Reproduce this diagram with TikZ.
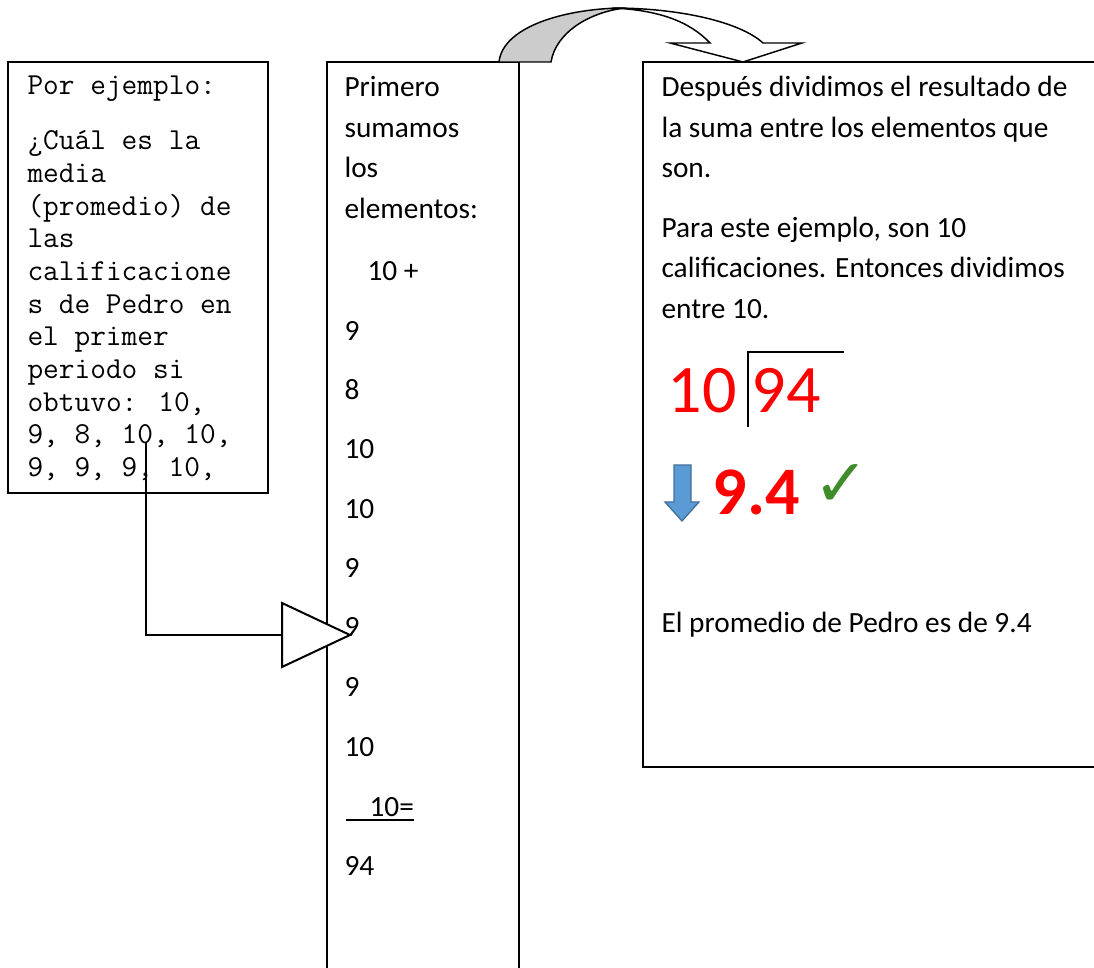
\documentclass[tikz,border=0pt]{standalone}
\usepackage{fontspec}
\setmainfont{Carlito}
\newfontfamily\simbolo{DejaVu Sans}
\usetikzlibrary{calc}

\definecolor{azulflecha}{RGB}{91,155,213}
\definecolor{bordeazul}{RGB}{65,113,156}
\definecolor{verdecheck}{RGB}{62,140,42}
\definecolor{grisflecha}{RGB}{204,204,204}

\begin{document}
\begin{tikzpicture}[x=0.375pt,y=-0.375pt,
  marco/.style={line width=0.8pt},
  curva/.style={line width=0.55pt},
  mono/.style={font=\ttfamily\fontsize{11.43pt}{13pt}\selectfont, anchor=base west, inner sep=0pt},
  cuerpo/.style={font=\fontsize{11pt}{13pt}\selectfont, anchor=base west, inner sep=0pt},
  grande/.style={font=\fontsize{25.5pt}{30pt}\selectfont, text=red, inner sep=0pt}]

  \useasboundingbox (0,0) rectangle (1094,968);

  % marcos
  \draw[marco] (8,62) rectangle (268,493);
  \draw[marco] (327,968) -- (327,62) -- (519,62) -- (519,968);
  \draw[marco] (1094,62) -- (643,62) -- (643,767) -- (1094,767);

  % flecha curva
  \filldraw[curva, fill=grisflecha] (499,62) .. controls (503,25) and (570,8) .. (625,8)
      .. controls (590,12) and (556,32) .. (551,62) -- cycle;
  \draw[curva, fill=white] (612,8) .. controls (680,8) and (740,22) .. (763,43)
      -- (802,43) -- (743,62) -- (670,43) -- (710,43)
      .. controls (690,22) and (660,10) .. (612,8) -- cycle;

  % conector
  \coordinate (inicio) at (146,443);
  \coordinate (punta) at (282,635);
  \draw[line width=0.75pt] (inicio) |- (punta);
  \draw[line width=0.75pt, fill=white] (punta) -- (282,603) -- (350,635) -- (282,667) -- cycle;

  % ejemplo
  \foreach \yy/\txt [count=\i] in {95/{Por ejemplo:}, 150/{¿Cuál es la}, 182.7/media,
      215.4/{(promedio) de}, 248/las, 280.8/calificacione, 313.5/{s de Pedro en},
      346/{el primer}, 379/{periodo si}, 411.5/{obtuvo: 10,}, 444/{9, 8, 10, 10,},
      476.5/{9, 9, 9, 10,}}
    \node[mono] (ej\i) at (27,\yy) {\txt};

  % suma
  \foreach \yy/\txt [count=\i] in {97/Primero, 138/sumamos, 178/los, 219/elementos:}
    \node[cuerpo] (paso\i) at (344,\yy) {\txt};
  \node[cuerpo] (primero) at (367,281) {10 +};
  \foreach \yy/\num [count=\i] in {341/9, 400/8, 459/10, 519/10, 578/9, 637/9, 697/9, 757/10, 876/94}
    \node[cuerpo] (n\i) at (344,\yy) {\num};
  \node[cuerpo] (ultimo) at (369,817) {10=};
  \draw[line width=0.7pt] (346,820) -- (ultimo.base east |- 0,820);

  % division
  \foreach \yy/\txt [count=\i] in {97/{Después dividimos el resultado de},
      138/{la suma entre los elementos que}, 178/son., 238/{Para este ejemplo, son 10},
      278/{calificaciones. Entonces dividimos}, 319/{entre 10.}, 633/{El promedio de Pedro es de 9.4}}
    \node[cuerpo] (r\i) at (661,\yy) {\txt};
  \node[grande, anchor=base east] (divisor) at (737,413) {10};
  \node[grande, anchor=base west] (dividendo) at (751,413) {94};
  \draw[line width=1pt] (748,427) -- (748,352) -- (844,352);

  % resultado
  \draw[fill=azulflecha, draw=bordeazul, line width=0.5pt] (674,465) -- (691,465) -- (691,502)
      -- (699,502) -- (682,521) -- (665,502) -- (674,502) -- cycle;
  \node[grande, anchor=base west, font=\bfseries\fontsize{25.5pt}{30pt}\selectfont] (cociente) at (712,515) {9.4};
  \node[anchor=base west, inner sep=0pt, text=verdecheck, font=\simbolo\fontsize{25pt}{28pt}\selectfont] (check) at (813,507) {✓};

\end{tikzpicture}
\end{document}
